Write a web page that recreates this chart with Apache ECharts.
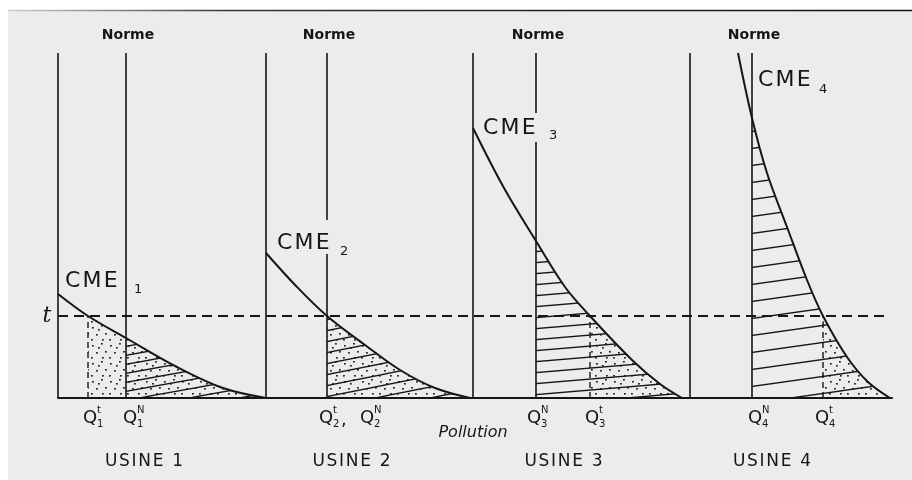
<!DOCTYPE html>
<html>
<head>
<meta charset="utf-8">
<script src="https://cdn.jsdelivr.net/npm/echarts@6/dist/echarts.min.js"></script>
<style>
  html, body { margin: 0; background: #fff; }
  #chart { width: 912px; height: 480px; }
</style>
</head>
<body>
<div id="chart"></div>
<script>
// x = pollution, y = marginal cost of emission reduction (CME), arbitrary units
const usines = ['USINE 1', 'USINE 2', 'USINE 3', 'USINE 4'];
const axisX = [0, 208, 415, 632];        // left axis of each usine
const normeX = [68, 269, 478, 694];      // emission standard (Norme) = Q^N
const taxQX = [30, 269, 532, 765];       // quantity under the tax = Q^t
const tLevel = 82;                       // tax t
const yTop = 345;
// gaps in the Norme lines where the CME labels sit
const normeGaps = [null, [144, 178], [256, 285], null];

const cme1 = [[0, 104], [30, 82], [68, 60], [119, 31], [165, 10], [208, 0]];
const cme2 = [[208, 145], [239, 111], [269, 82], [307, 53], [342, 28], [377, 10], [412, 0]];
const cme3 = [[415, 270], [446, 210], [478, 157], [507, 111], [532, 82], [574, 38], [602, 14], [624, 0]];
const cme4 = [[680, 345], [694, 280], [709, 225], [729, 171], [749, 118], [765, 82], [789, 41], [810, 16], [832, 0]];
const curves = [cme1, cme2, cme3, cme4];

const qLabels = [
  { x: 30, sup: 't', sub: '1' }, { x: 70, sup: 'N', sub: '1' },
  { x: 266, sup: 't', sub: '2', comma: true }, { x: 307, sup: 'N', sub: '2' },
  { x: 474, sup: 'N', sub: '3' }, { x: 532, sup: 't', sub: '3' },
  { x: 695, sup: 'N', sub: '4' }, { x: 762, sup: 't', sub: '4' }
];

const ink = '#161616';
const bg = '#ececec';

// hatch pattern: slanted lines, rising by h over w
function hatch(w, h) {
  const c = document.createElement('canvas');
  c.width = w; c.height = h;
  const g = c.getContext('2d');
  g.strokeStyle = ink;
  g.lineWidth = 1.3;
  [-h, 0, h].forEach(function (off) {
    g.beginPath();
    g.moveTo(0, h + off);
    g.lineTo(w, off);
    g.stroke();
  });
  return c;
}
function dots() {
  const c = document.createElement('canvas');
  c.width = 18; c.height = 18;
  const g = c.getContext('2d');
  g.fillStyle = '#222';
  [[2, 3], [11, 1], [15, 9], [6, 10], [12, 15], [1, 15], [8, 5]].forEach(function (p) {
    g.fillRect(p[0], p[1], 1.8, 1.6);
  });
  return c;
}
const hatches = [hatch(50, 9), hatch(55, 11), hatch(130, 11), hatch(120, 17)];
const dotPat = dots();

const chart = echarts.init(document.getElementById('chart'));
const series = [];

function seg(x1, y1, x2, y2, width, type, z) {
  series.push({
    type: 'line', data: [[x1, y1], [x2, y2]], symbol: 'none', silent: true,
    lineStyle: { color: ink, width: width, type: type || 'solid' }, z: z || 3
  });
}

curves.forEach(function (c, i) {
  // dotted area from Q^t, line hatch from Norme
  series.push({
    type: 'line', data: c.filter(p => p[0] >= taxQX[i]), smooth: 0.35, symbol: 'none', silent: true,
    lineStyle: { width: 0 }, areaStyle: { color: { image: dotPat, repeat: 'repeat' }, opacity: 1 }, z: 1
  });
  series.push({
    type: 'line', data: c.filter(p => p[0] >= normeX[i]), smooth: 0.35, symbol: 'none', silent: true,
    lineStyle: { width: 0 }, areaStyle: { color: { image: hatches[i], repeat: 'repeat' }, opacity: 1 }, z: 1
  });
  series.push({
    type: 'line', data: c, smooth: 0.35, symbol: 'none', silent: true,
    lineStyle: { color: ink, width: 2 }, z: 4
  });
  seg(axisX[i], 0, axisX[i], yTop, 1.6);
  if (normeGaps[i]) {
    seg(normeX[i], 0, normeX[i], normeGaps[i][0], 1.6);
    seg(normeX[i], normeGaps[i][1], normeX[i], yTop, 1.6);
  } else {
    seg(normeX[i], 0, normeX[i], yTop, 1.6);
  }
  if (taxQX[i] !== normeX[i]) seg(taxQX[i], 0, taxQX[i], tLevel, 1.4, [6, 4]);
});
seg(0, tLevel, 832, tLevel, 2, [10, 6]);

chart.setOption({
  backgroundColor: '#ffffff',
  animation: false,
  grid: { left: 58, right: 20, top: 53, bottom: 82 },
  xAxis: {
    type: 'value', min: 0, max: 834,
    axisLine: { show: true, lineStyle: { color: ink, width: 2 } },
    axisTick: { show: false }, axisLabel: { show: false }, splitLine: { show: false }
  },
  yAxis: {
    type: 'value', min: 0, max: yTop, show: false
  },
  series: series
});

function px(x, y) { return chart.convertToPixel({ gridIndex: 0 }, [x, y]); }
function txt(x, y, s, font, align) {
  return {
    type: 'text', x: x, y: y, z: 100,
    style: { text: s, font: font, fill: ink, textAlign: align || 'center', textVerticalAlign: 'middle' }
  };
}

const sans = '"DejaVu Sans", sans-serif';
const g = [
  { type: 'rect', shape: { x: 8, y: 10, width: 904, height: 470 }, style: { fill: bg }, z: -10 },
  {
    type: 'line', shape: { x1: 8, y1: 10.5, x2: 912, y2: 10.5 }, z: -9,
    style: {
      lineWidth: 1.5,
      stroke: new echarts.graphic.LinearGradient(0, 0, 1, 0, [
        { offset: 0, color: '#d0d0d0' }, { offset: 0.25, color: '#333' }, { offset: 1, color: '#111' }
      ])
    }
  }
];

normeX.forEach(function (x, i) {
  const p = px(x + 2, yTop + 18);
  g.push(txt(p[0], p[1], 'Norme', 'bold 14px ' + sans));
});
usines.forEach(function (u, i) {
  const p = px((axisX[i] + (i < 3 ? axisX[i + 1] : 832)) / 2 - 18, -64);
  g.push(txt(p[0], p[1], u.split('').join('\u200A'), '17px ' + sans));
});
const cmePos = [[7, 117, 76, 108], [219, 155, 282, 146], [425, 270, 491, 262], [700, 318, 761, 308]];
cmePos.forEach(function (c, i) {
  const a = px(c[0], c[1]), b = px(c[2], c[3]);
  g.push(txt(a[0], a[1], 'C\u200AM\u200AE', '22px ' + sans, 'left'));
  g.push(txt(b[0], b[1], String(i + 1), '13px ' + sans, 'left'));
});
qLabels.forEach(function (q) {
  const a = px(q.x - 5, -20);
  g.push(txt(a[0], a[1], 'Q', '18px ' + sans, 'left'));
  g.push(txt(a[0] + 14, a[1] - 8, q.sup, '10px ' + sans, 'left'));
  g.push(txt(a[0] + 14, a[1] + 6, q.sub, '10px ' + sans, 'left'));
  if (q.comma) g.push(txt(a[0] + 22, a[1] + 2, ',', '18px ' + sans, 'left'));
});
const pol = px(415, -35);
g.push(txt(pol[0], pol[1], 'Pollution', 'italic 16px ' + sans));
const tp = px(-11, tLevel);
g.push(txt(tp[0], tp[1], 't', 'italic 22px "DejaVu Serif", serif'));

chart.setOption({ graphic: g });
</script>
</body>
</html>
